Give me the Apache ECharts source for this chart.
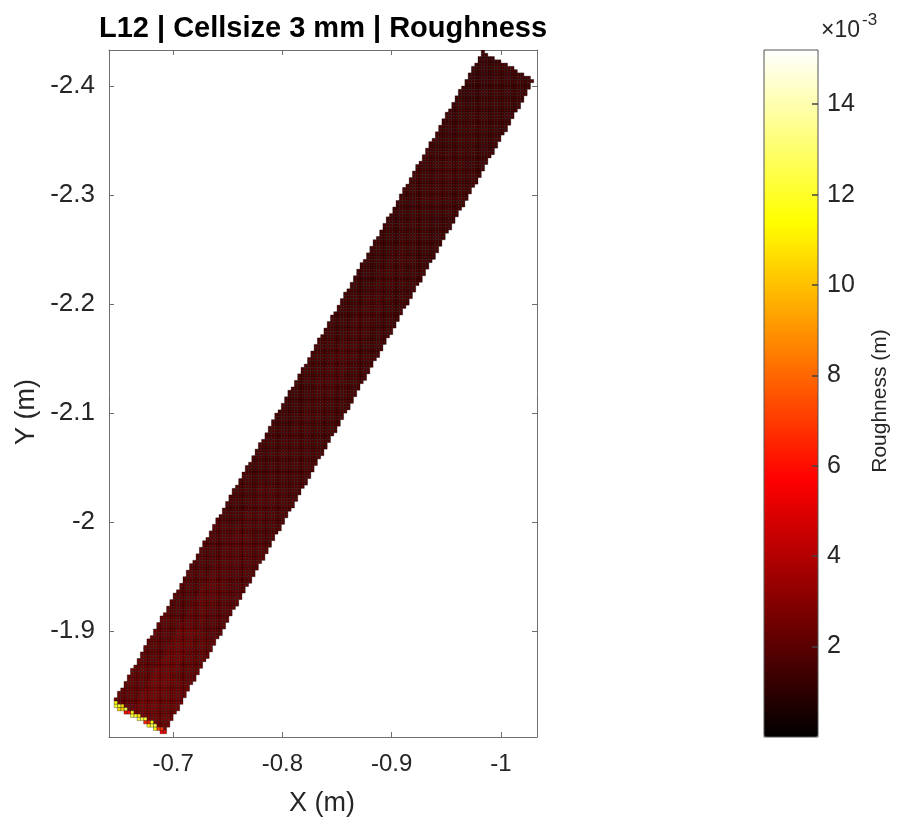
<!DOCTYPE html>
<html>
<head>
<meta charset="utf-8">
<script src="https://cdn.jsdelivr.net/npm/echarts@6/dist/echarts.min.js"></script>
<style>
html, body { margin: 0; padding: 0; background: #fff; }
#chart { width: 897px; height: 827px; }
</style>
</head>
<body>
<div id="chart"></div>
<script>
// axis limits (tight on the data)
var xMin = -1.033, xMax = -0.6413;
var yMin = -2.433, yMax = -1.803;
var cellSize = 0.003;

// tick labels
var xTicks = [-1, -0.9, -0.8, -0.7];
var yTicks = [-2.4, -2.3, -2.2, -2.1, -2, -1.9];
var cbTicks = [0.002, 0.004, 0.006, 0.008, 0.010, 0.012, 0.014];
var cbMin = 0, cbMax = 0.0152;

// corners of the scanned strip: bottom-left, bottom-right, top-right, top-left
var cornerX = [-0.6438, -0.6915, -1.0324, -0.9830];
var cornerY = [-1.8321, -1.8055, -2.4055, -2.4321];

// roughness (m) read along the strip, bottom end -> top end, for 3 bands across it
var roughLeft  = [0.0025, 0.0024, 0.0022, 0.0021, 0.0019, 0.0018, 0.0017, 0.0018, 0.0017, 0.0016, 0.0016, 0.0017, 0.0016, 0.0015];
var roughMid   = [0.0029, 0.0028, 0.0025, 0.0023, 0.0021, 0.0019, 0.0019, 0.0020, 0.0019, 0.0018, 0.0017, 0.0018, 0.0017, 0.0016];
var roughRight = [0.0027, 0.0025, 0.0023, 0.0022, 0.0020, 0.0019, 0.0018, 0.0018, 0.0017, 0.0017, 0.0016, 0.0017, 0.0016, 0.0016];
// cells on the bottom edge of the strip (left -> right)
var edgeValues = [0.0115, 0.0120, 0.0105, 0.0125, 0.0060, 0.0118, 0.0122, 0.0110, 0.0125, 0.0120, 0.0065, 0.0118, 0.0125, 0.0112, 0.0070, 0.0055];

var bands = [roughLeft, roughMid, roughRight];

// hot colormap
var hotColors = ['#000000', '#550000', '#aa0000', '#ff0000', '#ff5500', '#ffaa00', '#ffff00', '#ffff80', '#ffffff'];

//把条带栅格化成 3 mm 的格子
function buildCells(){
	var ax = cornerX[0], ay = cornerY[0];
	var ux = cornerX[1] - ax, uy = cornerY[1] - ay; // across
	var vx = cornerX[3] - ax, vy = cornerY[3] - ay; // along
	var det = ux * vy - uy * vx;
	var len = Math.sqrt(vx * vx + vy * vy);
	var nx = Math.round((xMax - xMin) / cellSize) + 1;
	var ny = Math.round((yMax - yMin) / cellSize);
	var cells = [];
	for(var i=0; i<nx; i++){
		for(var j=0; j<ny; j++){
			var cx = xMin + (i + 0.5) * cellSize;
			var cy = yMin + (j + 0.5) * cellSize;
			var px = cx - ax, py = cy - ay;
			var s = (px * vy - py * vx) / det;
			var t = (ux * py - uy * px) / det;
			if(s < 0 || s > 1 || t < 0 || t > 1 || cx > xMax) continue;
			var val;
			if(t * len < 0.0045){
				val = edgeValues[Math.min(edgeValues.length - 1, Math.floor(s * edgeValues.length))];
			}else{
				var band = bands[Math.min(2, Math.floor(s * 3))];
				val = band[Math.min(band.length - 1, Math.floor(t * band.length))];
			}
			cells.push([cx, cy, val]);
		}
	}
	return cells;
}

function renderCell(params, api){
	var x = api.value(0), y = api.value(1), h = cellSize / 2;
	var p1 = api.coord([x - h, y - h]);
	var p2 = api.coord([x + h, y + h]);
	return {
		type: 'rect',
		shape: {
			x: Math.min(p1[0], p2[0]),
			y: Math.min(p1[1], p2[1]),
			width: Math.abs(p2[0] - p1[0]),
			height: Math.abs(p2[1] - p1[1])
		},
		style: { fill: api.visual('color'), stroke: 'rgba(0,0,0,0.55)', lineWidth: 0.6 }
	};
}

var font = 'Liberation Sans, Arial, sans-serif';
var textColor = '#262626';
var lineColor = '#6e6e6e';

function oneDecimal(v){
	return String(Math.round(v * 10) / 10);
}

var chart = echarts.init(document.getElementById('chart'));
var option = {
	animation: false,
	backgroundColor: '#fff',
	grid: [
		{ left: 109, top: 50, width: 428, height: 687 },
		{ left: 764, top: 50, width: 54, height: 687, show: true, borderColor: '#555', borderWidth: 1, z: 2 }
	],
	xAxis: [
		{
			type: 'value', gridIndex: 0, min: xMin, max: xMax, inverse: true, position: 'bottom',
			splitLine: { show: false },
			axisLine: { onZero: false, lineStyle: { color: lineColor } },
			axisTick: { inside: true, length: 5, lineStyle: { color: lineColor }, customValues: xTicks },
			axisLabel: { customValues: xTicks, formatter: oneDecimal, fontFamily: font, fontSize: 24, color: textColor, margin: 15 }
		},
		{
			type: 'value', gridIndex: 0, min: xMin, max: xMax, inverse: true, position: 'top',
			splitLine: { show: false },
			axisLine: { onZero: false, lineStyle: { color: lineColor } },
			axisTick: { inside: true, length: 5, lineStyle: { color: lineColor }, customValues: xTicks },
			axisLabel: { show: false }
		},
		{ type: 'value', gridIndex: 1, min: 0, max: 1, show: false }
	],
	yAxis: [
		{
			type: 'value', gridIndex: 0, min: yMin, max: yMax, inverse: true, position: 'left',
			splitLine: { show: false },
			axisLine: { onZero: false, lineStyle: { color: lineColor } },
			axisTick: { inside: true, length: 5, lineStyle: { color: lineColor }, customValues: yTicks },
			axisLabel: { customValues: yTicks, formatter: oneDecimal, fontFamily: font, fontSize: 26, color: textColor, margin: 14 }
		},
		{
			type: 'value', gridIndex: 0, min: yMin, max: yMax, inverse: true, position: 'right',
			splitLine: { show: false },
			axisLine: { onZero: false, lineStyle: { color: lineColor } },
			axisTick: { inside: true, length: 5, lineStyle: { color: lineColor }, customValues: yTicks },
			axisLabel: { show: false }
		},
		{
			type: 'value', gridIndex: 1, min: cbMin, max: cbMax, position: 'right', z: 3,
			splitLine: { show: false },
			axisLine: { show: false, onZero: false },
			axisTick: { inside: true, length: 6, lineStyle: { color: '#444', width: 1.5 }, customValues: cbTicks },
			axisLabel: {
				customValues: cbTicks, fontFamily: font, fontSize: 25, color: textColor, margin: 9,
				formatter: function(v){ return String(Math.round(v * 1000)); }
			}
		}
	],
	visualMap: {
		type: 'continuous',
		seriesIndex: 0,
		dimension: 2,
		min: cbMin,
		max: cbMax,
		left: 764,
		top: 50,
		itemWidth: 54,
		itemHeight: 687,
		padding: 0,
		z: 1,
		calculable: false,
		hoverLink: false,
		text: null,
		showLabel: false,
		inRange: { color: hotColors }
	},
	graphic: [
		{ type: 'text', x: 323, y: 29, style: { text: 'L12 | Cellsize 3 mm | Roughness', font: 'bold 29px ' + font, fill: '#000', textAlign: 'center', textVerticalAlign: 'middle' } },
		{ type: 'text', x: 322, y: 804, style: { text: 'X (m)', font: '27px ' + font, fill: textColor, textAlign: 'center', textVerticalAlign: 'middle' } },
		{ type: 'text', x: 27, y: 412, rotation: Math.PI / 2, style: { text: 'Y (m)', font: '27px ' + font, fill: textColor, textAlign: 'center', textVerticalAlign: 'middle' } },
		{ type: 'text', x: 880, y: 401, rotation: Math.PI / 2, style: { text: 'Roughness (m)', font: '21px ' + font, fill: textColor, textAlign: 'center', textVerticalAlign: 'middle' } },
		{ type: 'text', x: 821, y: 31, style: { text: '\u00d710', font: '23px ' + font, fill: textColor, textAlign: 'left', textVerticalAlign: 'middle' } },
		{ type: 'text', x: 862, y: 20, style: { text: '-3', font: '17px ' + font, fill: textColor, textAlign: 'left', textVerticalAlign: 'middle' } }
	],
	series: [{
		type: 'custom',
		coordinateSystem: 'cartesian2d',
		xAxisIndex: 0,
		yAxisIndex: 0,
		clip: true,
		progressive: 0,
		renderItem: renderCell,
		encode: { x: 0, y: 1 },
		data: buildCells()
	}]
};
chart.setOption(option);
</script>
</body>
</html>
